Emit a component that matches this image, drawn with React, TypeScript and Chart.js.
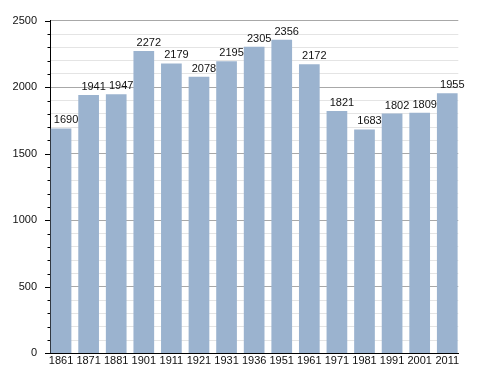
import React, { useEffect, useRef } from 'react';
import { Chart, registerables } from 'chart.js';

Chart.register(...registerables);

const years = ['1861', '1871', '1881', '1901', '1911', '1921', '1931', '1936', '1951', '1961', '1971', '1981', '1991', '2001', '2011'];
const population = [1690, 1941, 1947, 2272, 2179, 2078, 2195, 2305, 2356, 2172, 1821, 1683, 1802, 1809, 1955];
const yMin = 0;
const yMax = 2500;
const minorStep = 100;
const majorStep = 500;

const FONT = '"Liberation Sans", Arial, sans-serif';

export default function App() {
  const ref = useRef<HTMLCanvasElement>(null);

  useEffect(() => {
    const canvas = ref.current;
    if (!canvas) return;

    const valueLabels = {
      id: 'valueLabels',
      afterDatasetsDraw(chart: any) {
        const ctx = chart.ctx;
        const meta = chart.getDatasetMeta(0);
        ctx.save();
        ctx.font = `11px ${FONT}`;
        ctx.fillStyle = '#111';
        ctx.textAlign = 'center';
        ctx.textBaseline = 'alphabetic';
        meta.data.forEach((bar: any, i: number) => {
          ctx.fillText(String(population[i]), bar.x + 5, bar.y - 5);
        });
        ctx.restore();
      },
    };

    const yTickMarks = {
      id: 'yTickMarks',
      afterDraw(chart: any) {
        const ctx = chart.ctx;
        const y = chart.scales.y;
        const left = chart.chartArea.left;
        ctx.save();
        ctx.strokeStyle = '#000';
        ctx.lineWidth = 1;
        y.ticks.forEach((t: any) => {
          const py = Math.round(y.getPixelForValue(t.value)) + 0.5;
          const len = t.value % majorStep === 0 ? 5 : 2.5;
          ctx.beginPath();
          ctx.moveTo(left - len, py);
          ctx.lineTo(left, py);
          ctx.stroke();
        });
        ctx.restore();
      },
    };

    const chart = new Chart(canvas, {
      type: 'bar',
      data: {
        datasets: [
          {
            data: population.map((v, i) => ({ x: i, y: v })),
            backgroundColor: 'rgb(155,179,207)',
            borderWidth: 0,
            barPercentage: 0.75,
            categoryPercentage: 1,
          },
        ],
      },
      options: {
        responsive: false,
        animation: false,
        layout: { padding: { top: 20.7, right: 29.7, bottom: 0, left: 0 } },
        plugins: { legend: { display: false }, tooltip: { enabled: false } },
        scales: {
          x: {
            type: 'linear',
            offset: false,
            bounds: 'data',
            min: -0.4,
            max: years.length - 1 + 0.4,
            afterBuildTicks: (scale: any) => {
              scale.ticks = years.map((_, i) => ({ value: i }));
            },
            afterFit: (scale: any) => {
              scale.height = 19.3;
            },
            grid: { display: false, drawTicks: false, offset: false },
            border: { display: true, color: '#000', width: 1 },
            ticks: {
              autoSkip: false,
              maxRotation: 0,
              padding: 1,
              color: '#111',
              font: { family: FONT, size: 11 },
              callback: (v: any) => years[v as number] ?? '',
            },
          },
          y: {
            min: yMin,
            max: yMax,
            afterFit: (scale: any) => {
              scale.width = 50;
            },
            grid: {
              drawTicks: false,
              color: (c: any) => (c.tick && c.tick.value % majorStep === 0 ? '#a8a8a8' : '#e4e4e4'),
            },
            border: { display: true, color: '#000', width: 1 },
            ticks: {
              stepSize: minorStep,
              autoSkip: false,
              padding: 13,
              color: '#111',
              font: { family: FONT, size: 11 },
              callback: (v: any) => (Number(v) % majorStep === 0 ? String(v) : ''),
            },
          },
        },
      },
      plugins: [valueLabels, yTickMarks],
    });

    return () => chart.destroy();
  }, []);

  return (
    <div style={{ position: 'absolute', left: 0, top: 0, width: 488, height: 373, background: '#fff' }}>
      <canvas ref={ref} width={488} height={373} style={{ width: 488, height: 373, display: 'block' }} />
    </div>
  );
}
